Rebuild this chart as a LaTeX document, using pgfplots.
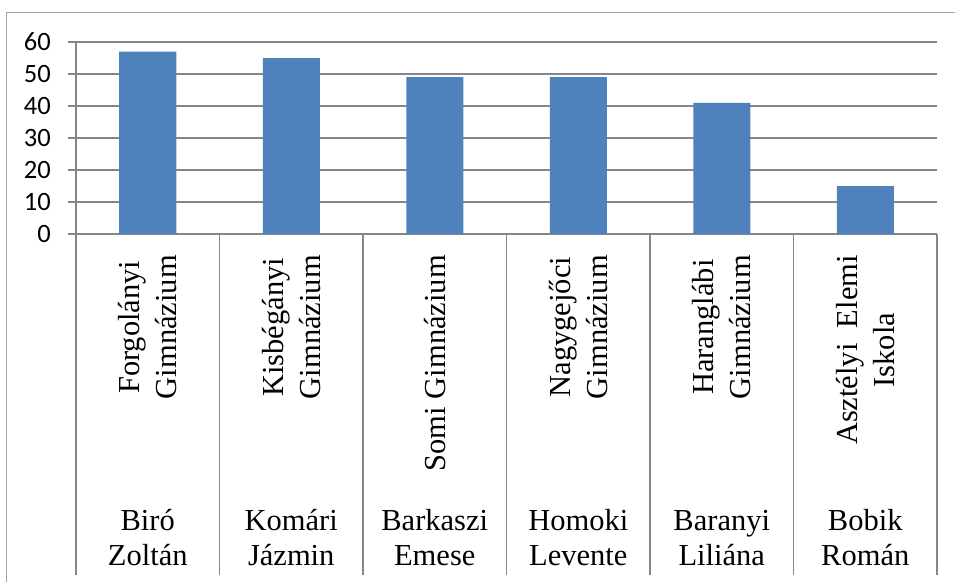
\documentclass[border=0pt]{standalone}
\usepackage{pgfplots}
\pgfplotsset{compat=1.18}
\usepackage{fontspec}
\setmainfont{Liberation Serif}
\newfontfamily\carlito{Carlito}
\definecolor{barblue}{RGB}{79,129,189}
\definecolor{gridgray}{RGB}{134,134,134}
\definecolor{framegray}{RGB}{165,165,165}
\begin{document}
\begin{tikzpicture}[x=1pt,y=1pt]
\begin{axis}[at={(0,0)}, anchor=south west, scale only axis,
  width=861pt, height=192pt,
  xmin=-0.5, xmax=5.5, ymin=0, ymax=60,
  ybar, bar width=57pt,
  axis x line*=bottom, axis y line*=left,
  axis line style={gridgray, line width=1.1pt, -},
  xtick=\empty,
  ytick={0,10,...,60},
  ytick pos=left,
  tick align=outside, major tick length=8pt,
  y tick style={gridgray, line width=1.1pt},
  ymajorgrids, grid style={gridgray, line width=1.1pt},
  yticklabel style={font=\carlito\fontsize{26.5}{30}\selectfont, inner sep=0pt, xshift=-17pt},
  /pgf/number format/assume math mode=true,
  clip=false,
]
\addplot[fill=barblue, draw=none] coordinates {(0,57) (1,55) (2,49) (3,49) (4,41) (5,15)};
\end{axis}
\foreach \i in {0,...,6} \draw[gridgray, line width=1.1pt] (\i*143.5,0) -- (\i*143.5,-341);
\draw[framegray, line width=1pt] (-69,-400) -- (-69,221) -- (900,221);
\tikzset{sch/.style={rotate=90, anchor=east, align=center, inner sep=0pt, font=\fontsize{30.5}{37}\selectfont},
  nm/.style={anchor=base, inner sep=0pt, font=\fontsize{30.5}{37}\selectfont}}
\node[sch] at (71.75,-21) {Forgolányi\\Gimnázium};
\node[sch] at (215.25,-21) {Kisbégányi\\Gimnázium};
\node[sch] at (358.75,-21) {Somi Gimnázium};
\node[sch] at (502.25,-21) {Nagygejőci\\Gimnázium};
\node[sch] at (645.75,-21) {Haranglábi\\Gimnázium};
\node[sch] at (789.25,-21) {Asztélyi\ \ Elemi\\Iskola};
\foreach \x/\a/\b in {71.75/Biró/Zoltán, 215.25/Komári/Jázmin, 358.75/Barkaszi/Emese, 502.25/Homoki/Levente, 645.75/Baranyi/Liliána, 789.25/Bobik/Román}{
  \node[nm] at (\x,-296) {\a};
  \node[nm] at (\x,-331) {\b};
}
\pgfresetboundingbox
\useasboundingbox (-76,-347) rectangle (879,234);
\end{tikzpicture}
\end{document}
